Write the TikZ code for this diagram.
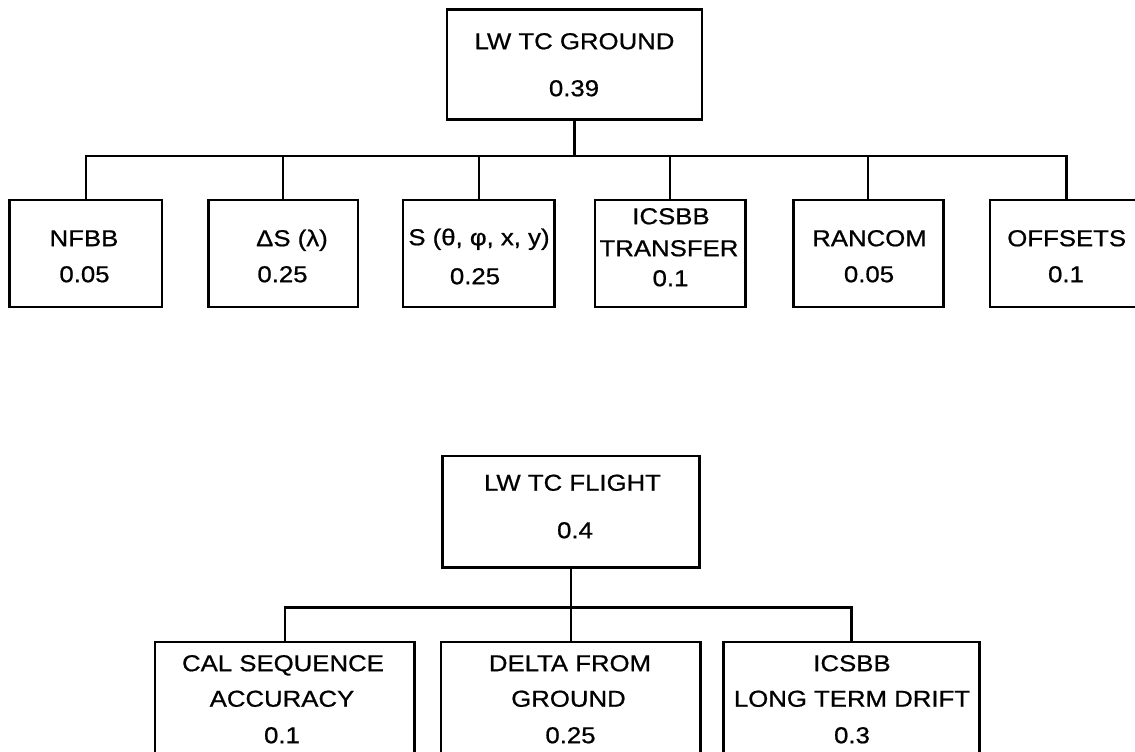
\documentclass[tikz,border=0pt]{standalone}
\usepackage{fontspec}
\setmainfont{Liberation Sans}[FakeStretch=1.12,FakeBold=0.8]
\begin{document}
\begin{tikzpicture}[x=1pt,y=-1pt,
  box/.style={draw=black, line width=2.5pt, rectangle, inner sep=0pt, outer sep=0pt},
  lbl/.style={anchor=base, inner sep=0pt, outer sep=0pt, font=\fontsize{23}{27}\selectfont},
  conn/.style={draw=black, line width=2.2pt}]
\useasboundingbox (0,0) rectangle (1135,752);
\clip (0,0) rectangle (1135,752);

% ---------- LW TC GROUND tree ----------
\node[box, minimum width=255pt, minimum height=110pt] (ground) at (574.5,64.3) {};
\node[lbl] (groundA) at (574.5,49.2) {LW TC GROUND};
\node[lbl] (groundB) at (574,96.2) {0.39};

\node[box, minimum width=152.5pt, minimum height=107pt] (nfbb) at (85.75,253.5) {};
\node[box, minimum width=149.7pt, minimum height=107pt] (ds) at (283.15,253.5) {};
\node[box, minimum width=151.5pt, minimum height=107pt] (sth) at (478.75,253.5) {};
\node[box, minimum width=150.6pt, minimum height=107pt] (icsbb) at (670.3,253.5) {};
\node[box, minimum width=150pt, minimum height=107pt] (rancom) at (868.3,253.5) {};
\node[box, minimum width=153pt, minimum height=107pt] (offsets) at (1066.5,253.5) {};

\node[lbl] (nfbbA) at (84,246.2) {NFBB};
\node[lbl] (nfbbB) at (84.5,282.2) {0.05};
\node[lbl] (dsA) at (292,246.2) {ΔS (λ)};
\node[lbl] (dsB) at (282.5,282.2) {0.25};
\node[lbl] (sthA) at (479,245.2) {S (θ, φ, x, y)};
\node[lbl] (sthB) at (475,284.2) {0.25};
\node[lbl] (icsbbA) at (671,224.2) {ICSBB};
\node[lbl] (icsbbB) at (669,256.2) {TRANSFER};
\node[lbl] (icsbbC) at (670.5,286.2) {0.1};
\node[lbl] (rancomA) at (869.5,246.2) {RANCOM};
\node[lbl] (rancomB) at (869,282.2) {0.05};
\node[lbl] (offsetsA) at (1066.7,246.2) {OFFSETS};
\node[lbl] (offsetsB) at (1066,282.2) {0.1};

\coordinate (gbus) at (574.5,156);
\draw[conn] (ground.south) -- (gbus);
\draw[conn] (nfbb.north) |- (gbus) -| (offsets.north);
\foreach \n in {ds,sth,icsbb,rancom}
  \draw[conn] (\n.north) -- (\n.north |- gbus);

% ---------- LW TC FLIGHT tree ----------
\node[box, minimum width=257pt, minimum height=111.7pt] (flight) at (570.8,511.85) {};
\node[lbl] (flightA) at (572.5,490.7) {LW TC FLIGHT};
\node[lbl] (flightB) at (575,538.2) {0.4};

\node[box, minimum width=259.5pt, minimum height=158pt] (cal) at (284.75,721) {};
\node[box, minimum width=259.5pt, minimum height=158pt] (delta) at (570.75,721) {};
\node[box, minimum width=256pt, minimum height=158pt] (drift) at (851.5,721) {};

\node[lbl] (calA) at (283,671.2) {CAL SEQUENCE};
\node[lbl] (calB) at (282,706.7) {ACCURACY};
\node[lbl] (calC) at (282,743.2) {0.1};
\node[lbl] (deltaA) at (570,671.2) {DELTA FROM};
\node[lbl] (deltaB) at (568.5,706.7) {GROUND};
\node[lbl] (deltaC) at (570.5,743.2) {0.25};
\node[lbl] (driftA) at (852,671.2) {ICSBB};
\node[lbl] (driftB) at (852,706.7) {LONG TERM DRIFT};
\node[lbl] (driftC) at (852,743.2) {0.3};

\coordinate (fbus) at (570.8,607.5);
\draw[conn] (flight.south) -- (fbus);
\draw[conn] (cal.north) |- (fbus) -| (drift.north);
\draw[conn] (delta.north) -- (delta.north |- fbus);
\end{tikzpicture}
\end{document}
